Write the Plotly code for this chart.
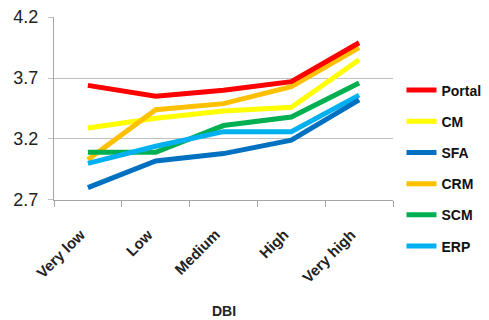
import plotly.graph_objects as go

categories = ["Very low", "Low", "Medium", "High", "Very high"]
series_names = ["Portal", "CM", "SFA", "CRM", "SCM", "ERP"]
portal = [3.64, 3.55, 3.60, 3.67, 3.99]
cm = [3.29, 3.37, 3.43, 3.46, 3.85]
sfa = [2.80, 3.02, 3.08, 3.19, 3.52]
crm = [3.03, 3.44, 3.49, 3.63, 3.95]
scm = [3.09, 3.09, 3.31, 3.38, 3.66]
erp = [3.00, 3.14, 3.26, 3.26, 3.56]
colors = ["#FF0000", "#FFFF00", "#0070C0", "#FFC000", "#00B050", "#00B0F0"]
y_ticks = [2.7, 3.2, 3.7, 4.2]
x_title = "DBI"

values = [portal, cm, sfa, crm, scm, erp]
fig = go.Figure()
order = [1, 3, 4, 5, 2, 0]  # Portal drawn last (on top)
for i in order:
    fig.add_trace(go.Scatter(
        x=categories, y=values[i], name=series_names[i], mode="lines",
        line=dict(color=colors[i], width=5), legendgroup=series_names[i],
        legendrank=i + 1,
    ))

PLOT_H = 183.0
annotations = []
# rotated category labels, anchored at each category on the x axis
for c in categories:
    annotations.append(dict(
        text=c, x=c, xref="x", y=-28 / PLOT_H, yref="paper",
        textangle=-45, showarrow=False, xanchor="right", yanchor="top",
        xshift=3, yshift=5,
        font=dict(size=15, color="#222222", weight="bold"),
    ))
annotations.append(dict(
    text=x_title, x=0.5, y=-(311 - 200) / PLOT_H, xref="paper", yref="paper",
    showarrow=False, xanchor="center", yanchor="middle",
    font=dict(size=14, color="#222222", weight="bold"),
))

# the page body has an 8px margin, so the figure is 8px smaller than the window
fig.update_layout(
    template="none",
    width=481, height=312,
    margin=dict(l=46, r=96, t=9, b=120, autoexpand=False),
    paper_bgcolor="white", plot_bgcolor="white",
    font=dict(family="Liberation Sans, Arial, sans-serif", color="#222222"),
    showlegend=True,
    legend=dict(x=1.025, y=0.686, xanchor="left", yanchor="top",
                font=dict(size=14, family="Liberation Sans, Arial", color="#111111", weight="bold"),
                tracegroupgap=10, itemwidth=30, bgcolor="rgba(0,0,0,0)", borderwidth=0),
    xaxis=dict(
        type="category", range=[-0.5, len(categories) - 0.5], autorange=False,
        showline=True, linecolor="#A6A6A6", linewidth=1,
        ticks="outside", tickson="boundaries", ticklen=6, tickcolor="#A6A6A6",
        showticklabels=False, showgrid=False, automargin=False,
    ),
    yaxis=dict(
        range=[2.699, 4.201], autorange=False, tickvals=y_ticks, ticktext=[f"{v:.1f}" for v in y_ticks],
        showline=True, linecolor="#A6A6A6", linewidth=1,
        showgrid=True, gridcolor="#BFBFBF", gridwidth=1,
        ticks="outside", ticklen=5, tickcolor="#BFBFBF", automargin=False,
        ticklabelstandoff=6, ticklabeloverflow="allow",
        tickfont=dict(size=18, color="#222222"), zeroline=False,
    ),
    annotations=annotations,
)
fig.write_html("out.html")
